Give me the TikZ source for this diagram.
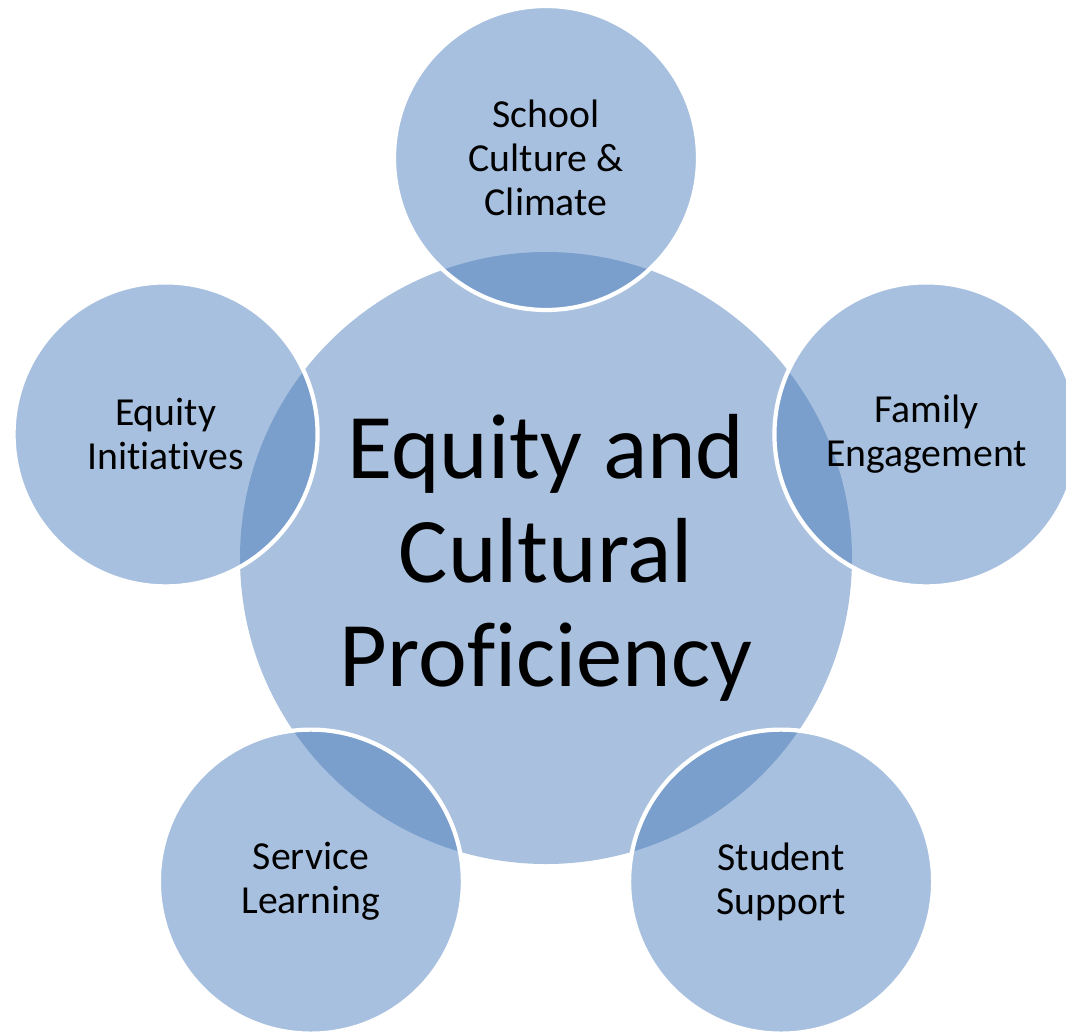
\documentclass[tikz,border=0pt]{standalone}
\usepackage{fontspec}
\setmainfont{Carlito}[Ligatures=NoCommon]
\usetikzlibrary{positioning}
\definecolor{hubblue}{RGB}{169,193,223}
\definecolor{petalblue}{RGB}{70,122,186}

\begin{document}
\begin{tikzpicture}[
  hub/.style={circle,fill=hubblue,minimum size=6.12cm,inner sep=0pt,align=center,
    font=\fontsize{26.3}{29.5}\selectfont},
  petal/.style={circle,draw=white,line width=1.2pt,fill=petalblue,fill opacity=0.47,
    text opacity=1,minimum size=3.04cm,inner sep=0pt,align=center,
    font=\fontsize{11.3}{12.5}\selectfont}]
\useasboundingbox (-5.46,-4.75) rectangle (5.20,5.58);

% Centre
\node[hub] (hub) at (0,0) {Equity and\\Cultural\\Proficiency};

% Petals around the centre
\node[petal] (culture) at (90:4) {School\\Culture \&\\Climate};
\node[petal] (family) at (18:4) {Family\\Engagement};
\node[petal] (support) at (-54:4) {Student\\Support};
\node[petal] (service) at (-126:4) {Service\\Learning};
\node[petal] (initiatives) at (162:4) {Equity\\Initiatives};
\end{tikzpicture}
\end{document}
